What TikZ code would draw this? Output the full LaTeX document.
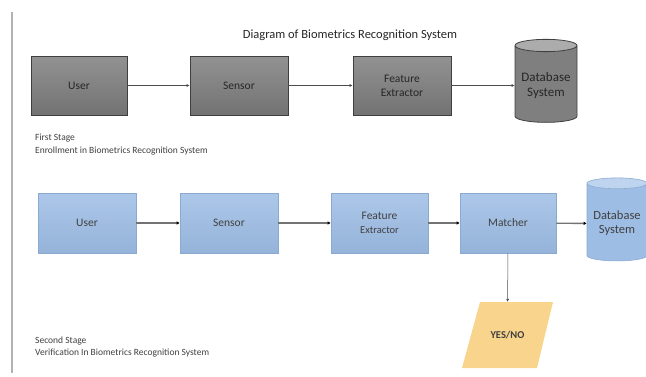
\documentclass[tikz,border=0pt]{standalone}
\usepackage{fontspec}
\setmainfont{Carlito}
\usepackage{tikz}
\usetikzlibrary{arrows.meta,shapes.geometric}
\definecolor{grayfill}{HTML}{7F7F7F}
\definecolor{grayline}{HTML}{3F3F3F}
\definecolor{bluefill}{HTML}{9DBDE5}
\definecolor{blueline}{HTML}{8AAAD2}
\definecolor{bluetop}{HTML}{BFD5EF}
\definecolor{yesfill}{HTML}{F9D48C}

\begin{document}
\begin{tikzpicture}[x=1pt,y=-1pt,
  graybox/.style={draw=grayline,line width=0.8pt,top color=grayfill!85!white,bottom color=grayfill!90!black,
    minimum width=96pt,minimum height=59pt,text=black!85,font=\fontsize{11.5}{14}\selectfont,align=center},
  bluebox/.style={draw=blueline,line width=0.6pt,top color=bluefill!85!white,bottom color=bluefill!95!black,
    minimum width=97pt,minimum height=60pt,text=black!75,font=\fontsize{11.5}{14}\selectfont,align=center},
  grayjar/.style={cylinder,shape border rotate=90,aspect=0.22,draw=grayline,line width=0.8pt,
    cylinder uses custom fill,cylinder body fill=grayfill,cylinder end fill=gray!65,
    minimum width=62pt,minimum height=83pt,text=black!85,font=\fontsize{13}{15}\selectfont,align=center},
  bluejar/.style={cylinder,shape border rotate=90,aspect=0.2,draw=blueline,line width=0.6pt,
    cylinder uses custom fill,cylinder body fill=bluefill,cylinder end fill=bluetop,
    minimum width=60pt,minimum height=83pt,text=black!75,font=\fontsize{12.5}{14}\selectfont,align=center},
  thinarrow/.style={draw=black!70,line width=0.5pt,-{Latex[length=3pt,width=3pt]}},
  thickarrow/.style={draw=black!55,line width=1.4pt,-{Latex[length=3pt,width=3.5pt,color=black]}},
  note/.style={anchor=north west,align=left,text=black!75,font=\fontsize{9.5}{12.5}\selectfont,inner sep=0pt}]
\useasboundingbox (0,0) rectangle (646,376);
\draw[black!30,line width=1.5pt] (12,12) -- (12,373);

\node[text=black!85,font=\fontsize{12.5}{14}\selectfont] (title) at (350,35) {Diagram of Biometrics Recognition System};

% first stage
\node[graybox] (user1) at (79,85.5) {User};
\node[graybox,minimum width=98pt] (sensor1) at (239,85.5) {Sensor};
\node[graybox,minimum width=98pt] (feat1) at (402,85.5) {Feature\\Extractor};
\node[grayjar] (db1) at (546,85.5) {Database\\System};
\draw[thinarrow] (user1) -- (sensor1);
\draw[thinarrow] (sensor1) -- (feat1);
\draw[thinarrow] (feat1) -- (db1);
\node[note] (stage1) at (35,134) {First Stage\\Enrollment in Biometrics Recognition System};

% second stage
\node[bluebox,minimum width=98pt] (user2) at (87,223) {User};
\node[bluebox,minimum width=98pt] (sensor2) at (229,223) {Sensor};
\node[bluebox] (feat2) at (379.5,223) {Feature\\{\fontsize{10.5}{12}\selectfont Extractor}};
\node[bluebox,minimum width=96pt] (match2) at (508,223) {Matcher};
\node[bluejar] (db2) at (617,223.5) {Database\\System};
% YES/NO parallelogram
\fill[yesfill] (480,302) -- (553,302) -- (537,368) -- (462,368) -- cycle;
\node[text=black!75,font=\bfseries\fontsize{10.5}{12}\selectfont,minimum height=66pt] (yesno) at (507.5,335) {YES/NO};
\draw[thickarrow] (user2) -- (sensor2);
\draw[thickarrow] (sensor2) -- (feat2);
\draw[thickarrow] (feat2) -- (match2);
\draw[thickarrow] (match2) -- (db2);
\draw[thinarrow] (match2) -- (yesno);
\node[note] (stage2) at (35,336.5) {Second Stage\\Verification In Biometrics Recognition System};
\end{tikzpicture}
\end{document}
